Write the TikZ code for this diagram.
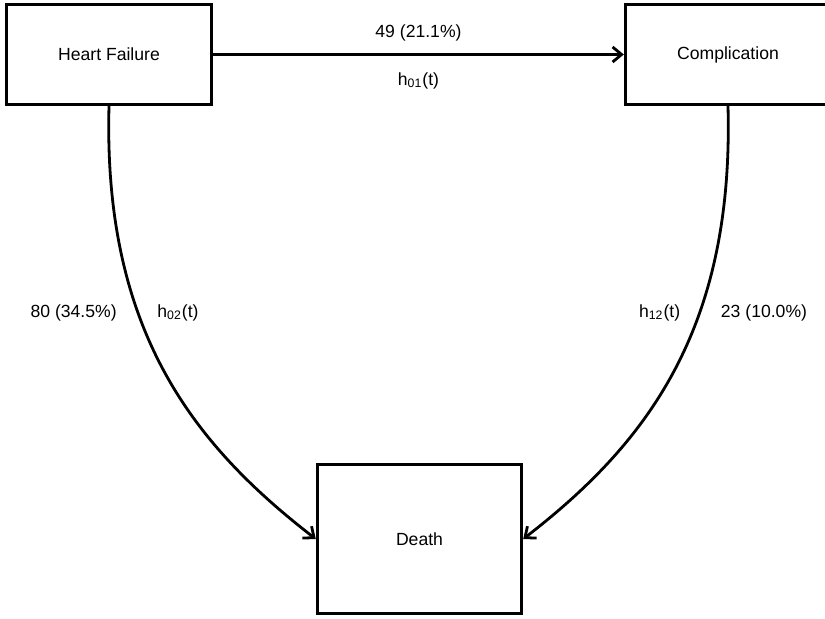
\documentclass[tikz,border=0pt]{standalone}
\usepackage{fontspec}
\setmainfont{Liberation Sans}
\usetikzlibrary{arrows.meta}

\begin{document}
\begin{tikzpicture}[x=0.5pt,y=0.5pt,font=\fontsize{8.8pt}{10.5pt}\selectfont,
  state/.style={draw=black,line width=1.7pt,minimum width=102.5pt,minimum height=50pt,inner sep=0pt},
  flow/.style={line width=1.4pt,-{Straight Barb[length=4.5pt,width=7.5pt,line width=1.4pt]}},
  lbl/.style={inner sep=0pt}]
\useasboundingbox (0,0) rectangle (825,618);
\node[state] (hf) at (109,563.5) {Heart Failure};
\node[state] (comp) at (728,563.5) {Complication};
\node[state,minimum width=102pt,minimum height=74.5pt] (death) at (419.5,79) {Death};
\draw[flow] (hf) -- (comp)
  node[lbl,midway,yshift=11pt] {49 (21.1\%)}
  node[lbl,midway,yshift=-13pt] {h\textsubscript{01}(t)};
\draw[flow] (hf.south) .. controls +(-6,-225.5) and +(-121.5,94) .. (death.west)
  node[lbl,pos=0.365,left=10pt] {80 (34.5\%)}
  node[lbl,pos=0.365,right=9pt] {h\textsubscript{02}(t)};
\draw[flow] (comp.south) .. controls +(6,-225.5) and +(121.5,94) .. (death.east)
  node[lbl,pos=0.365,left=9pt] {h\textsubscript{12}(t)}
  node[lbl,pos=0.365,right=10pt] {23 (10.0\%)};
\end{tikzpicture}
\end{document}
